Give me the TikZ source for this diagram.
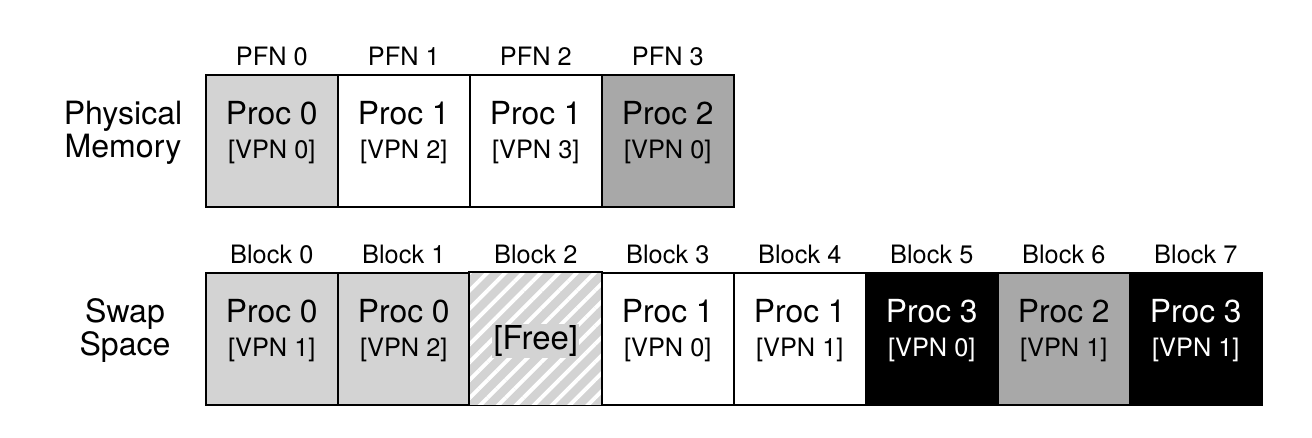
\documentclass[tikz,border=0pt]{standalone}
\usepackage{fontspec}
\setmainfont{TeX Gyre Heros}
\usetikzlibrary{patterns.meta}
\definecolor{lightgrey}{HTML}{D3D3D3}
\definecolor{midgrey}{HTML}{A8A8A8}
\tikzset{
	cell/.style={draw, line width=1.1pt, minimum width=3.3cm, minimum height=3.3cm, inner sep=0pt, anchor=north west},
	proc/.style={font=\fontsize{22.6}{26}\selectfont},
	vpn/.style={font=\fontsize{18}{21}\selectfont},
	head/.style={font=\fontsize{18}{21}\selectfont},
	rowname/.style={font=\fontsize{22.8}{26}\selectfont}
}
\begin{document}
\begin{tikzpicture}[x=0.025cm,y=-0.025cm]
	\useasboundingbox (0,0) rectangle (1312,438);
	% physical memory
	\node [cell, fill=lightgrey] (pfn0) at (205,74) {};
	\node [cell, fill=white] (pfn1) at (337,74) {};
	\node [cell, fill=white] (pfn2) at (469,74) {};
	\node [cell, fill=midgrey] (pfn3) at (601,74) {};
	\foreach \i in {0,...,3}
		\node [head, anchor=base] (pfnlabel\i) at ([yshift=0.2cm]pfn\i.north) {PFN \i};
	\node [proc] (pp0) at ([yshift=0.7cm]pfn0.center) {Proc 0};
	\node [vpn] (pv0) at ([yshift=-0.27cm]pfn0.center) {[VPN 0]};
	\node [proc] (pp1) at ([yshift=0.7cm]pfn1.center) {Proc 1};
	\node [vpn] (pv1) at ([yshift=-0.27cm]pfn1.center) {[VPN 2]};
	\node [proc] (pp2) at ([yshift=0.7cm]pfn2.center) {Proc 1};
	\node [vpn] (pv2) at ([yshift=-0.27cm]pfn2.center) {[VPN 3]};
	\node [proc] (pp3) at ([yshift=0.7cm]pfn3.center) {Proc 2};
	\node [vpn] (pv3) at ([yshift=-0.27cm]pfn3.center) {[VPN 0]};
	\node [rowname] (phys1) at (123,116) {Physical};
	\node [rowname] (phys2) at (123,149) {Memory};
	% swap space
	\node [cell, fill=lightgrey] (blk0) at (205,272) {};
	\node [cell, fill=lightgrey] (blk1) at (337,272) {};
	\node [cell, draw=none, fill=lightgrey] (blk2) at (469,272) {};
	\fill [pattern={Lines[angle=45,distance=9pt,line width=2.8pt]}, pattern color=white] (blk2.south west) rectangle (blk2.north east);
	\draw [line width=1.1pt] (blk2.south west) rectangle (blk2.north east);
	\node [cell, fill=white] (blk3) at (601,272) {};
	\node [cell, fill=white] (blk4) at (733,272) {};
	\node [cell, fill=black] (blk5) at (865,272) {};
	\node [cell, fill=midgrey] (blk6) at (997,272) {};
	\node [cell, fill=black] (blk7) at (1129,272) {};
	\foreach \i in {0,...,7}
		\node [head, anchor=base] (blklabel\i) at ([yshift=0.2cm]blk\i.north) {Block \i};
	\node [proc] (sp0) at ([yshift=0.7cm]blk0.center) {Proc 0};
	\node [vpn] (sv0) at ([yshift=-0.27cm]blk0.center) {[VPN 1]};
	\node [proc] (sp1) at ([yshift=0.7cm]blk1.center) {Proc 0};
	\node [vpn] (sv1) at ([yshift=-0.27cm]blk1.center) {[VPN 2]};
	\node [proc, fill=lightgrey, inner sep=1pt] (free) at ([yshift=-0.05cm]blk2.center) {\fontsize{23.4}{26}\selectfont[Free]};
	\node [proc] (sp3) at ([yshift=0.7cm]blk3.center) {Proc 1};
	\node [vpn] (sv3) at ([yshift=-0.27cm]blk3.center) {[VPN 0]};
	\node [proc] (sp4) at ([yshift=0.7cm]blk4.center) {Proc 1};
	\node [vpn] (sv4) at ([yshift=-0.27cm]blk4.center) {[VPN 1]};
	\node [proc, text=white] (sp5) at ([yshift=0.7cm]blk5.center) {Proc 3};
	\node [vpn, text=white] (sv5) at ([yshift=-0.27cm]blk5.center) {[VPN 0]};
	\node [proc] (sp6) at ([yshift=0.7cm]blk6.center) {Proc 2};
	\node [vpn] (sv6) at ([yshift=-0.27cm]blk6.center) {[VPN 1]};
	\node [proc, text=white] (sp7) at ([yshift=0.7cm]blk7.center) {Proc 3};
	\node [vpn, text=white] (sv7) at ([yshift=-0.27cm]blk7.center) {[VPN 1]};
	\node [rowname] (swap1) at (125,314) {Swap};
	\node [rowname] (swap2) at (125,347) {Space};
\end{tikzpicture}
\end{document}
